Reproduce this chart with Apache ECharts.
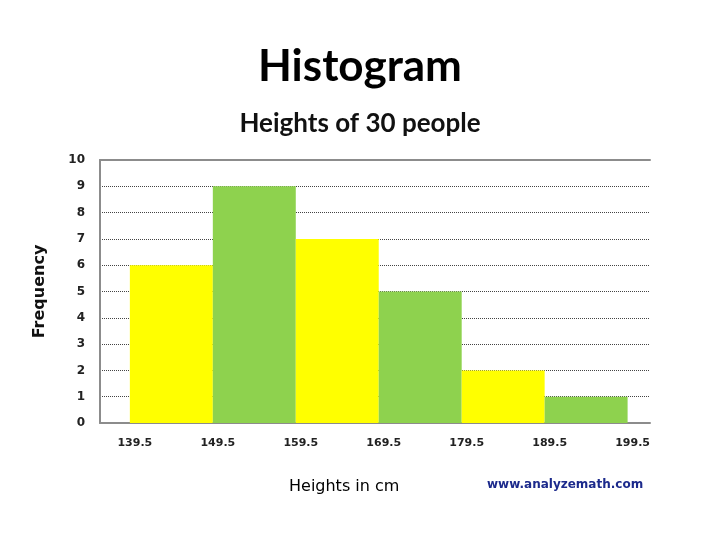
<!DOCTYPE html>
<html>
<head>
<meta charset="utf-8">
<script src="https://cdn.jsdelivr.net/npm/echarts@6/dist/echarts.min.js"></script>
<style>
  html, body { margin: 0; padding: 0; background: #fff; }
  #histogram { width: 720px; height: 540px; }
</style>
</head>
<body>
<div id="histogram"></div>
<script>
// 区间边界和频数
const binEdges = [139.5, 149.5, 159.5, 169.5, 179.5, 189.5, 199.5]
const frequencies = [6, 9, 7, 5, 2, 1]
const yTicks = [0, 1, 2, 3, 4, 5, 6, 7, 8, 9, 10]

const barData = frequencies.map((f, i) => [binEdges[i], binEdges[i + 1], f])

const chart = echarts.init(document.getElementById('histogram'))

const option = {
    backgroundColor: '#fff',
    animation: false,
    title: [{
        text: 'Histogram',
        left: 'center',
        top: 40,
        textStyle: { fontFamily: 'Lato', fontWeight: 'bold', fontSize: 44, color: '#000' }
    }, {
        text: 'Heights of 30 people',
        left: 'center',
        top: 106,
        textStyle: { fontFamily: 'Lato', fontWeight: 'bold', fontSize: 26, color: '#111' }
    }, {
        text: 'Heights in cm',
        left: 284,
        top: 474,
        textStyle: { fontFamily: 'DejaVu Sans', fontWeight: 'normal', fontSize: 16, color: '#000' }
    }, {
        text: 'www.analyzemath.com',
        left: 482,
        top: 474,
        textStyle: { fontFamily: 'DejaVu Sans', fontWeight: 'bold', fontSize: 12, color: '#1c2a8c' }
    }],
    grid: {
        left: 100,
        right: 70,
        top: 160,
        bottom: 117
    },
    xAxis: [{
        type: 'value',
        min: 135.9,
        max: 202.2,
        axisLine: { show: true, lineStyle: { color: '#8c8c8c', width: 2 } },
        axisTick: { show: false },
        splitLine: { show: false },
        axisLabel: {
            customValues: binEdges,
            formatter: v => v.toFixed(1),
            margin: 15,
            padding: [0, 0, 0, 10],
            color: '#222',
            fontFamily: 'DejaVu Sans',
            fontWeight: 'bold',
            fontSize: 11
        }
    }, {
        // 顶部边框
        type: 'value',
        position: 'top',
        min: 135.9,
        max: 202.2,
        axisLine: { show: true, lineStyle: { color: '#8c8c8c', width: 2 } },
        axisTick: { show: false },
        axisLabel: { show: false },
        splitLine: { show: false }
    }],
    yAxis: {
        type: 'value',
        min: 0,
        max: 10,
        interval: 1,
        name: 'Frequency',
        nameLocation: 'middle',
        nameGap: 52,
        nameRotate: 90,
        nameTextStyle: { fontFamily: 'DejaVu Sans', fontWeight: 'bold', fontSize: 16, color: '#111' },
        axisLine: { show: true, lineStyle: { color: '#8c8c8c', width: 2 } },
        axisTick: { show: false },
        axisLabel: {
            customValues: yTicks,
            margin: 15,
            color: '#222',
            fontFamily: 'DejaVu Sans',
            fontWeight: 'bold',
            fontSize: 12
        },
        splitLine: {
            show: true,
            lineStyle: { color: '#444', width: 1, type: [1, 1] }
        }
    },
    series: [{
        type: 'custom',
        data: barData,
        encode: { x: [0, 1], y: 2 },
        renderItem: function (params, api) {
            const p0 = api.coord([api.value(0), api.value(2)])
            const p1 = api.coord([api.value(1), 0])
            return {
                type: 'rect',
                shape: { x: p0[0], y: p0[1], width: p1[0] - p0[0], height: p1[1] - p0[1] },
                style: { fill: params.dataIndex % 2 === 0 ? '#ffff00' : '#8ed24e' }
            }
        }
    }]
}

chart.setOption(option)
</script>
</body>
</html>
